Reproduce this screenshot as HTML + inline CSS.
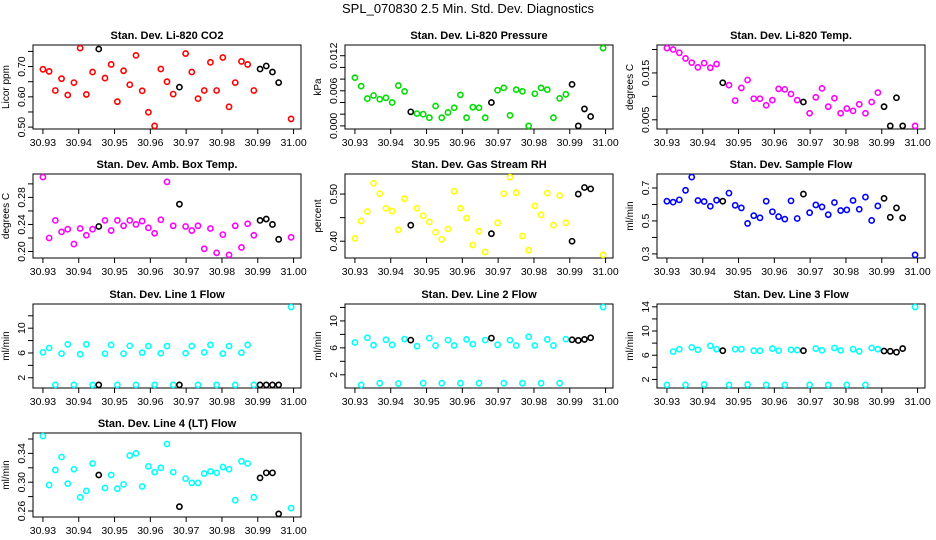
<!DOCTYPE html>
<html><head><meta charset="utf-8"><style>
html,body{margin:0;padding:0;background:#fff;}
svg{display:block;font-family:"Liberation Sans",Arial,sans-serif;}
</style></head><body>
<svg id="chart" width="936" height="540" viewBox="0 0 936 540">
<text x="468" y="13" text-anchor="middle" font-size="13">SPL_070830  2.5 Min. Std. Dev. Diagnostics</text>
</svg>
<script>
const xIdx = [0,1,2,3,4,5,6,7,8,9,10,11,12,13,14,15,16,17,18,19,20,21,22,23,24,25,26,27,28,29,30,31,32,33,34,35,36,37,38,40];
const blackIdx = [9,22,35,36,37,38];
const xTicks = [30.93,30.94,30.95,30.96,30.97,30.98,30.99,31.00];
const co2 = [0.691,0.684,0.621,0.660,0.606,0.647,0.761,0.608,0.682,0.758,0.662,0.707,0.584,0.686,0.640,0.737,0.620,0.549,0.504,0.692,0.650,0.609,0.632,0.743,0.682,0.594,0.621,0.714,0.621,0.730,0.567,0.647,0.717,0.707,0.621,0.692,0.702,0.682,0.647,0.527];
const pressure = [0.00825,0.0068,0.00467,0.0052,0.00456,0.0048,0.004,0.0069,0.0059,0.0024,0.0021,0.002,0.0014,0.0034,0.0014,0.0023,0.0031,0.0053,0.0014,0.0032,0.0031,0.0014,0.004,0.0061,0.0065,0.0018,0.0062,0.0059,0,0.0055,0.0065,0.0062,0.0014,0.0047,0.0054,0.0071,0,0.0029,0.0016,0.0133];
const licorTemp = [0.0203,0.0200,0.0193,0.0181,0.0172,0.0162,0.0171,0.0161,0.0169,0.0129,0.0124,0.0091,0.0118,0.0135,0.0095,0.0095,0.0081,0.0092,0.0116,0.0115,0.0105,0.0092,0.0088,0.0064,0.0098,0.0117,0.0078,0.0096,0.0064,0.0074,0.0069,0.0083,0.0064,0.0088,0.0108,0.0078,0.0037,0.0097,0.0037,0.0037];
const ambTemp = [0.310,0.220,0.246,0.229,0.233,0.211,0.234,0.224,0.233,0.237,0.246,0.231,0.246,0.238,0.246,0.240,0.245,0.235,0.227,0.247,0.303,0.238,0.270,0.237,0.231,0.238,0.204,0.234,0.198,0.225,0.195,0.238,0.206,0.241,0.224,0.246,0.248,0.240,0.218,0.221];
const rh = [0.406,0.443,0.463,0.523,0.501,0.470,0.464,0.424,0.490,0.434,0.470,0.454,0.441,0.419,0.404,0.426,0.506,0.470,0.449,0.392,0.421,0.377,0.416,0.439,0.501,0.536,0.503,0.411,0.381,0.475,0.456,0.502,0.434,0.497,0.439,0.400,0.500,0.514,0.511,0.371];
const sampleFlow = [0.620,0.614,0.628,0.686,0.766,0.624,0.618,0.589,0.626,0.620,0.669,0.595,0.579,0.485,0.532,0.519,0.620,0.556,0.526,0.511,0.622,0.515,0.663,0.550,0.597,0.585,0.538,0.612,0.563,0.567,0.624,0.571,0.645,0.503,0.591,0.637,0.522,0.579,0.519,0.294];
const line1 = [6.1,6.8,0.85,5.9,7.4,0.85,5.8,7.4,0.85,0.85,5.9,7.3,0.85,5.9,7.15,0.85,6.05,7.1,0.85,5.95,7.1,0.85,0.85,5.95,7.1,0.85,6.1,7.3,0.85,5.9,7.1,0.85,6.05,7.3,0.85,0.85,0.85,0.85,0.85,13.4];
const line2 = [6.8,0.5,7.5,6.4,0.75,7.2,6.45,0.7,7.3,7.15,6.25,0.75,7.45,6.35,0.75,7.15,6.35,0.75,7.25,6.55,0.75,7.15,7.45,6.45,0.75,7.15,6.35,0.75,7.65,6.35,0.75,7.25,6.35,0.75,7.3,7.2,7.1,7.25,7.5,12.05];
const line3 = [1.1,6.6,7.0,1.1,7.3,6.9,1.15,7.55,7.0,6.75,1.1,7.0,7.0,1.15,6.75,6.75,1.1,7.1,6.75,1.1,6.9,6.85,6.75,1.1,7.1,6.8,1.1,7.2,6.8,1.1,7.0,6.65,1.1,7.2,7.0,6.7,6.65,6.5,7.1,13.95];
const line4 = [0.364,0.296,0.317,0.335,0.298,0.318,0.279,0.288,0.326,0.310,0.292,0.310,0.291,0.297,0.337,0.340,0.294,0.322,0.314,0.320,0.353,0.314,0.266,0.305,0.299,0.299,0.312,0.315,0.313,0.321,0.318,0.275,0.329,0.326,0.279,0.306,0.313,0.313,0.256,0.264];

const co2Ticks=[0.50,0.55,0.60,0.65,0.70,0.75], co2Labels=["0.50","","0.60","","0.70",""];
const presTicks=[0,0.002,0.004,0.006,0.008,0.010,0.012], presLabels=["0.000","","","0.006","","","0.012"];
const tempTicks=[0.005,0.010,0.015,0.020], tempLabels=["0.005","","0.015",""];
const ambTicks=[0.20,0.22,0.24,0.26,0.28,0.30], ambLabels=["0.20","","0.24","","0.28",""];
const rhTicks=[0.40,0.45,0.50], rhLabels=["0.40","","0.50"];
const sfTicks=[0.3,0.4,0.5,0.6,0.7], sfLabels=["0.3","","0.5","","0.7"];
const l1Ticks=[2,4,6,8,10,12], l1Labels=["2","","6","","10",""];
const l2Ticks=[2,4,6,8,10,12], l2Labels=["2","","6","","10",""];
const l3Ticks=[2,4,6,8,10,12,14], l3Labels=["2","","6","","10","","14"];
const l4Ticks=[0.26,0.28,0.30,0.32,0.34,0.36], l4Labels=["0.26","","0.30","","0.34",""];

const panels = [
 {name:"co2",title:"Stan. Dev. Li-820 CO2",ylab:"Licor ppm",data:co2,color:"#ff0000",ticks:co2Ticks,labels:co2Labels,col:0,row:0},
 {name:"pressure",title:"Stan. Dev. Li-820 Pressure",ylab:"kPa",data:pressure,color:"#00dd00",ticks:presTicks,labels:presLabels,col:1,row:0},
 {name:"licor-temp",title:"Stan. Dev. Li-820 Temp.",ylab:"degrees C",data:licorTemp,color:"#ff00ff",ticks:tempTicks,labels:tempLabels,col:2,row:0},
 {name:"amb-box-temp",title:"Stan. Dev. Amb. Box Temp.",ylab:"degrees C",data:ambTemp,color:"#ff00ff",ticks:ambTicks,labels:ambLabels,col:0,row:1},
 {name:"gas-stream-rh",title:"Stan. Dev. Gas Stream RH",ylab:"percent",data:rh,color:"#ffff00",ticks:rhTicks,labels:rhLabels,col:1,row:1},
 {name:"sample-flow",title:"Stan. Dev. Sample Flow",ylab:"ml/min",data:sampleFlow,color:"#0000ff",ticks:sfTicks,labels:sfLabels,col:2,row:1},
 {name:"line1-flow",title:"Stan. Dev. Line 1 Flow",ylab:"ml/min",data:line1,color:"#00ffff",ticks:l1Ticks,labels:l1Labels,col:0,row:2},
 {name:"line2-flow",title:"Stan. Dev. Line 2 Flow",ylab:"ml/min",data:line2,color:"#00ffff",ticks:l2Ticks,labels:l2Labels,col:1,row:2},
 {name:"line3-flow",title:"Stan. Dev. Line 3 Flow",ylab:"ml/min",data:line3,color:"#00ffff",ticks:l3Ticks,labels:l3Labels,col:2,row:2},
 {name:"line4-flow",title:"Stan. Dev. Line 4 (LT) Flow",ylab:"ml/min",data:line4,color:"#00ffff",ticks:l4Ticks,labels:l4Labels,col:0,row:3}
];

const NS="http://www.w3.org/2000/svg";
const svg=document.getElementById('chart');
function mk(tag,attrs,parent){const e=document.createElementNS(NS,tag);for(const k in attrs)e.setAttribute(k,attrs[k]);parent.appendChild(e);return e;}
const rowTops=[45,174,304,433], boxH=84, boxW=268;
const xVals = xIdx.map(i=>30.93+i*0.0017325);
const xMin=Math.min(...xVals), xMax=Math.max(...xVals), xPad=(xMax-xMin)*0.04;

panels.forEach(p=>{
  const L=p.col*312+33, T=rowTops[p.row];
  const g=mk('g',{},svg);
  
  
  const yMin=Math.min(...p.data), yMax=Math.max(...p.data), yPad=(yMax-yMin)*0.04;
  const x0=xMin-xPad, x1=xMax+xPad, y0=yMin-yPad, y1=yMax+yPad;
  const sx=v=>L+(v-x0)/(x1-x0)*boxW;
  const sy=v=>T+boxH-(v-y0)/(y1-y0)*boxH;
  const box=mk('rect',{x:L,y:T,width:boxW,height:boxH,fill:'none',stroke:'#000','stroke-width':1},g);
  
  
  const t=mk('text',{x:L+boxW/2,y:T-6,'text-anchor':'middle','font-size':11,'font-weight':'bold'},g);
  t.textContent=p.title;
  
  
  const yl=mk('text',{x:0,y:0,'text-anchor':'middle','font-size':10,transform:`translate(${L-24},${T+boxH/2}) rotate(-90)`},g);
  yl.textContent=p.ylab;
  
  
  // x axis
  xTicks.forEach(v=>{
    const x=sx(v);
    mk('line',{x1:x,y1:T+boxH,x2:x,y2:T+boxH+5,stroke:'#000'},g);
    const tl=mk('text',{x:x,y:T+boxH+17,'text-anchor':'middle','font-size':10.5},g);
    tl.textContent=v.toFixed(2);
    
    
  });
  // y axis
  p.ticks.forEach((v,i)=>{
    const y=sy(v);
    if(y<T-0.5||y>T+boxH+0.5)return;
    mk('line',{x1:L,y1:y,x2:L-5,y2:y,stroke:'#000'},g);
    if(p.labels[i]){
      const tl=mk('text',{x:0,y:0,'text-anchor':'middle','font-size':10.5,transform:`translate(${L-8},${y}) rotate(-90)`},g);
      tl.textContent=p.labels[i];
      
      
    }
  });
  p.data.forEach((v,i)=>{
    const isBlack=blackIdx.includes(xIdx[i]);
    const c=mk('circle',{cx:sx(xVals[i]),cy:sy(v),r:2.6,fill:'none',stroke:isBlack?'#000':p.color,'stroke-width':1.6},g);
    
    
  });
});
</script>
</body></html>
